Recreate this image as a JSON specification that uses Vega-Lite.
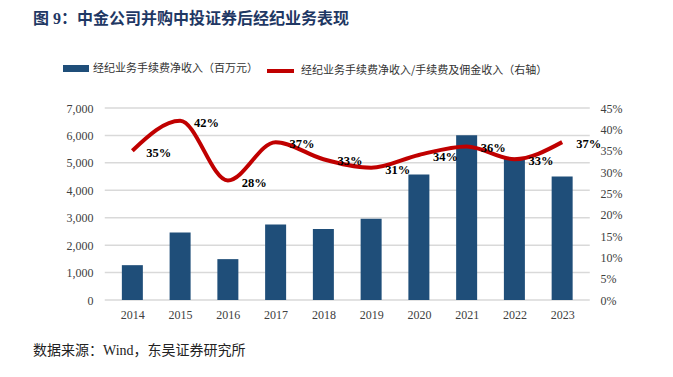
{
  "$schema": "https://vega.github.io/schema/vega-lite/v6.json",
  "background": "white",
  "padding": {"left": 22, "top": 11, "right": 0, "bottom": 0},
  "config": {
    "view": {"stroke": null},
    "font": "Liberation Serif, Noto Sans CJK SC",
    "axis": {"labelFont": "Liberation Serif", "labelFontSize": 12, "labelColor": "#404040", "grid": false, "ticks": false, "domain": false, "title": null}
  },
  "spacing": 12,
  "vconcat": [
    {
      "spacing": 65,
      "vconcat": [
        {
          "width": 651,
          "height": 3,
          "title": {"text": "图 9：中金公司并购中投证券后经纪业务表现", "anchor": "start", "frame": "group", "dx": 11, "offset": 7, "fontSize": 16, "fontWeight": "bold", "font": "Liberation Serif, Noto Sans CJK SC", "color": "#1F3864"},
          "data": {"values": [{}]},
          "mark": {"type": "bar", "color": "#333333", "orient": "horizontal"},
          "encoding": {
            "x": {"datum": 1, "type": "quantitative", "scale": {"domain": [0, 1]}, "axis": null}
          }
        },
        {
          "width": 651,
          "height": 192,
          "data": {"values": [
            {"year": 2014, "income": 1270, "ratio": 0.35},
            {"year": 2015, "income": 2460, "ratio": 0.42},
            {"year": 2016, "income": 1490, "ratio": 0.28},
            {"year": 2017, "income": 2750, "ratio": 0.37},
            {"year": 2018, "income": 2590, "ratio": 0.33},
            {"year": 2019, "income": 2960, "ratio": 0.31},
            {"year": 2020, "income": 4580, "ratio": 0.34},
            {"year": 2021, "income": 6010, "ratio": 0.36},
            {"year": 2022, "income": 5190, "ratio": 0.33},
            {"year": 2023, "income": 4500, "ratio": 0.37}
          ]},
          "resolve": {"scale": {"y": "independent"}, "axis": {"x": "independent"}},
          "layer": [
            {
              "data": {"values": [{"v": 0}, {"v": 1000}, {"v": 2000}, {"v": 3000}, {"v": 4000}, {"v": 5000}, {"v": 6000}, {"v": 7000}]},
              "mark": {"type": "tick", "orient": "horizontal", "size": 485, "thickness": 1.5, "color": "#d9d9d9", "opacity": 1},
              "encoding": {
                "x": {"datum": 2018.5, "type": "quantitative", "scale": {"domain": [2011.7938, 2025.2165], "nice": false, "zero": false}, "axis": null},
                "y": {"field": "v", "type": "quantitative", "scale": {"domain": [0, 7000]}, "axis": null}
              }
            },
            {
              "mark": {"type": "bar", "color": "#1F4E79", "width": 21},
              "encoding": {
                "x": {"field": "year", "type": "quantitative", "scale": {"domain": [2011.7938, 2025.2165], "nice": false, "zero": false},
                      "axis": {"orient": "bottom", "values": [2014, 2015, 2016, 2017, 2018, 2019, 2020, 2021, 2022, 2023], "format": "d", "labelPadding": 9, "labelFontSize": 12}},
                "y": {"field": "income", "type": "quantitative", "scale": {"domain": [0, 7000]},
                      "axis": {"orient": "left", "offset": -83, "values": [0, 1000, 2000, 3000, 4000, 5000, 6000, 7000], "format": ",.0f", "labelPadding": 12}},
                "fill": {"datum": "经纪业务手续费净收入（百万元）", "type": "nominal", "scale": {"range": ["#1F4E79"]},
                         "legend": {"orient": "none", "legendX": 41, "legendY": 21.5, "title": null, "padding": 0,
                                    "symbolType": "M-1,-0.27H1V0.27H-1Z", "symbolSize": 676, "symbolStrokeWidth": 0,
                                    "labelFont": "Noto Sans CJK SC", "labelFontSize": 11, "labelColor": "#333333", "labelOffset": 4, "labelLimit": 400}}
              }
            },
            {
              "encoding": {
                "x": {"field": "year", "type": "quantitative", "scale": {"domain": [2011.7938, 2025.2165], "nice": false, "zero": false}, "axis": null},
                "y": {"field": "ratio", "type": "quantitative", "scale": {"domain": [0, 0.45]},
                      "axis": {"orient": "right", "offset": -83, "values": [0, 0.05, 0.1, 0.15, 0.2, 0.25, 0.3, 0.35, 0.4, 0.45], "format": ".0%", "labelPadding": 10}}
              },
              "layer": [
                {
                  "mark": {"type": "line", "interpolate": "monotone", "strokeWidth": 4},
                  "encoding": {
                    "stroke": {"datum": "经纪业务手续费净收入/手续费及佣金收入（右轴）", "type": "nominal", "scale": {"range": ["#C00000"]},
                               "legend": {"orient": "none", "legendX": 243, "legendY": 21.5, "title": null, "padding": 0,
                                          "symbolType": "stroke", "symbolSize": 729, "symbolStrokeWidth": 4,
                                          "labelFont": "Noto Sans CJK SC", "labelFontSize": 11, "labelColor": "#333333", "labelOffset": 5, "labelLimit": 400}}
                  }
                },
                {
                  "mark": {"type": "text", "align": "left", "baseline": "middle", "dx": 14, "dy": 2, "font": "Liberation Serif", "fontSize": 12.5, "fontWeight": "bold", "color": "#000000"},
                  "encoding": {"text": {"field": "ratio", "type": "quantitative", "format": ".0%"}}
                }
              ]
            }
          ]
        }
      ]
    },
    {
      "width": 651,
      "height": 2,
      "title": {"text": "数据来源：Wind，东吴证券研究所", "orient": "bottom", "anchor": "start", "frame": "group", "dx": 11, "offset": 10, "fontSize": 14, "fontWeight": "normal", "font": "Liberation Serif, Noto Sans CJK SC", "color": "#222222"},
      "data": {"values": [{}]},
      "mark": {"type": "bar", "color": "#222222", "orient": "horizontal"},
      "encoding": {
        "x": {"datum": 1, "type": "quantitative", "scale": {"domain": [0, 1]}, "axis": null}
      }
    }
  ]
}
